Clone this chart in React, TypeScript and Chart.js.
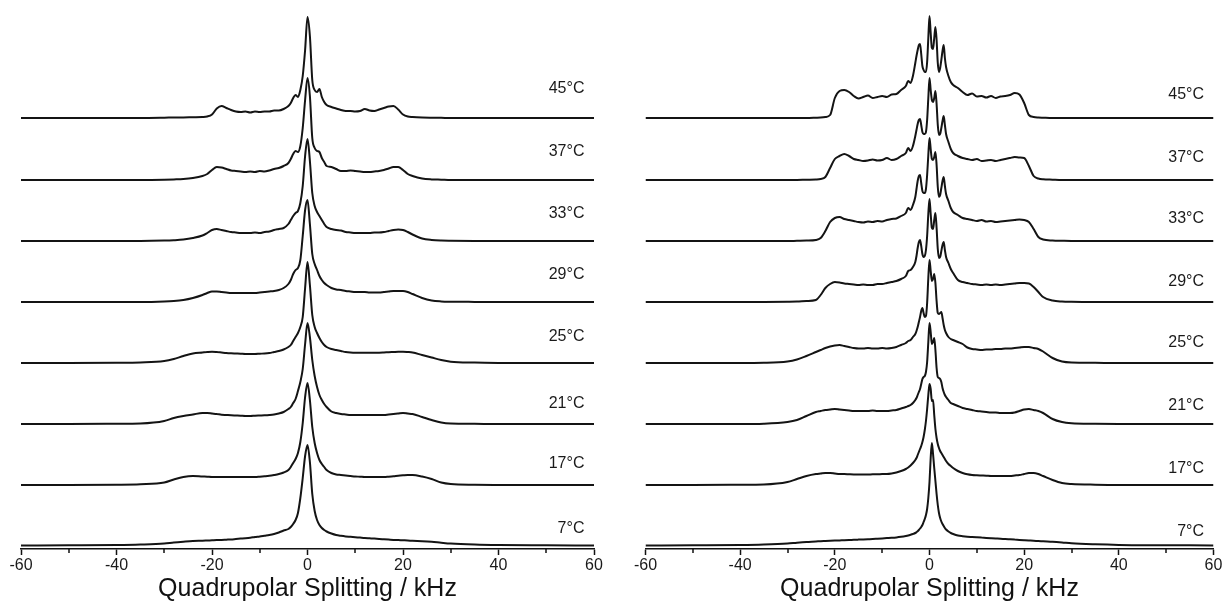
import React, { useEffect, useRef } from "react";
import { Chart, registerables } from "chart.js";

Chart.register(...registerables);

const FONT = "'Liberation Sans', Arial, sans-serif";

// Temperatures, bottom to top
const TEMPS = ["7°C", "17°C", "21°C", "25°C", "29°C", "33°C", "37°C", "45°C"];
// vertical stacking offset of each spectrum (intensity units)
const STACK_OFFSETS = [0, 61, 122, 183, 244, 305, 366, 428];
const X_MINOR = [-50, -30, -10, 10, 30, 50];
const AXIS_TITLE = "Quadrupolar Splitting / kHz";

// ---------- LEFT PANEL (kHz grid) ----------
const LEFT_X = [
  -60, -50, -40, -35, -30, -28, -26, -24, -22,
  -21, -20, -19, -18, -17, -16, -15, -14, -13, -12, -11, -10, -9, -8, -7, -6, -5,
  -4, -3.5, -3, -2.5, -2, -1.5, -1, -0.5, 0, 0.5, 1, 1.5, 2, 2.5, 3, 3.5, 4,
  5, 6, 7, 8, 9, 10, 11, 12, 13, 14, 15, 16, 17, 18, 19, 20, 21,
  22, 24, 26, 28, 30, 35, 40, 50, 60,
];
const LEFT_7 = [
  0.5, 0.7, 1, 1.5, 2.5, 3.5, 4.3, 5, 5.3,
  5.5, 5.7, 5.9, 6, 6.3, 6.6, 7, 7.4, 7.8, 8.3, 9, 9.6, 10.3, 11, 12, 13.5, 15.5,
  17, 19, 22, 26, 33, 48, 68, 90, 101, 84, 52, 35, 26, 21, 18, 16, 14.5,
  12.5, 11, 10.2, 9.6, 9.2, 8.8, 8.4, 8, 7.7, 7.4, 7, 6.7, 6.4, 6.1, 5.9, 5.7, 5.5,
  5.2, 4.8, 4.2, 3.3, 2.5, 1.5, 1, 0.7, 0.5,
];
const LEFT_17 = [
  0, 0, 0.3, 0.8, 2.5, 5.5, 8, 9, 8.5,
  8.3, 8, 8, 8, 8, 8, 8, 8, 8, 8, 8, 8.3, 8.7, 9.2, 10, 11, 12.5,
  15, 18, 22, 26, 32, 43, 62, 88, 102, 85, 58, 42, 32, 25, 21, 18, 15,
  12, 10.5, 10, 9.5, 9, 8.5, 8.3, 8, 8, 8, 8, 8, 8.3, 8.7, 9.3, 9.7, 10,
  10, 8.5, 6, 2.5, 1, 0.3, 0.1, 0, 0,
];
const LEFT_21 = [
  0, 0, 0.2, 0.5, 3, 6, 8, 9.5, 11,
  11, 10.5, 10, 9.3, 9, 8.7, 8.5, 8.3, 8, 8, 8.3, 8.5, 8.7, 9, 9.5, 10.5, 12,
  15, 17, 21, 25, 33, 42, 55, 80, 101, 87, 64, 48, 37, 29, 24, 20, 17,
  12.5, 11, 10, 9.5, 9, 9, 9, 9, 9, 9, 9, 9, 9.5, 10, 10.5, 11, 10.5,
  10, 7, 4, 1.5, 0.5, 0.2, 0, 0, 0,
];
const LEFT_25 = [
  0, 0, 0.2, 0.6, 2, 4, 7, 9.5, 10.5,
  11, 11.3, 11, 10.5, 10, 9.7, 9.5, 9.3, 9, 9, 9, 9.3, 9.5, 10, 11, 12, 13.5,
  16, 18, 22, 26, 30, 36, 46, 75, 101, 78, 48, 36, 30, 25, 21, 18, 16,
  14, 13, 12, 11, 10.5, 10.3, 10.3, 10.3, 10.3, 10.3, 10.3, 10.5, 10.8, 11, 11.2, 11.3, 11,
  10.5, 8, 5.5, 3, 1.3, 0.4, 0.1, 0, 0,
];
const LEFT_29 = [
  0, 0, 0, 0, 0.5, 1, 2, 4, 7,
  9, 10.5, 10.5, 10, 9.5, 9, 9, 9, 9, 9, 9, 9.5, 10, 10.5, 11, 12, 14,
  18, 22, 28, 32, 34, 42, 66, 92, 102, 78, 48, 38, 32, 26, 22, 19, 17,
  14, 12.5, 12, 11, 10.5, 10, 10, 10, 9.5, 9.5, 9.5, 10, 10.5, 11, 11, 11, 10,
  8, 4, 1.5, 0.6, 0.3, 0.1, 0, 0, 0,
];
const LEFT_33 = [
  0, 0, 0, 0, 0.4, 0.8, 1.5, 3, 5.5,
  8, 11, 12, 11, 10, 9, 8.5, 8, 8, 8, 8.5, 8, 9, 9.5, 11, 12, 13,
  17, 21, 25, 28, 30, 38, 55, 85, 102, 80, 48, 35, 29, 25, 21, 17, 14,
  12, 11, 10.5, 9, 8.5, 8, 8, 8, 8, 8.5, 8.5, 9, 10, 11, 11.5, 11, 9,
  6.5, 2.5, 1, 0.4, 0.2, 0, 0, 0, 0,
];
const LEFT_37 = [
  0, 0, 0, 0, 0.3, 0.6, 1, 2, 4,
  6, 10, 13, 12.5, 11, 9.5, 9, 8.5, 8, 8.5, 8, 9, 8.5, 9.5, 11, 12, 14,
  17, 21, 26, 29, 28, 34, 52, 80, 102, 84, 42, 32, 29, 28, 22, 18, 14,
  13, 11, 9, 9, 9.5, 9, 8.5, 8, 8, 8.5, 9, 10, 11.5, 13, 13, 10, 6,
  4, 1.5, 0.6, 0.3, 0, 0, 0, 0, 0,
];
const LEFT_45 = [
  0, 0, 0, 0, 0.3, 0.5, 0.6, 0.8, 1,
  1.5, 3.5, 9.5, 12, 10, 8, 6.5, 6, 6.5, 5.5, 6.5, 6, 6.5, 6.5, 7.5, 7.5, 9,
  12, 15, 20, 23, 21, 28, 42, 68, 101, 82, 38, 28, 26, 29, 21, 16, 13,
  11, 9.5, 8, 7, 7, 6.5, 7, 9, 7.5, 7, 8.5, 10, 11.5, 12, 8.5, 3.5, 1.5,
  1, 0.5, 0.3, 0.2, 0, 0, 0, 0, 0,
];

// ---------- RIGHT PANEL (kHz grid) ----------
const RIGHT_X = [
  -60, -50, -40, -35, -30, -28, -26, -24,
  -23, -22, -21, -20, -19, -18, -17, -16, -15, -14, -13, -12, -11, -10, -9, -8, -7, -6,
  -5, -4.5, -4, -3.5,
  -3, -2.75, -2.5, -2.25, -2, -1.75, -1.5, -1.25, -1, -0.75, -0.5, -0.25, 0,
  0.25, 0.5, 0.75, 1, 1.25, 1.5, 1.75, 2, 2.25, 2.5, 2.75, 3, 3.25, 3.5,
  4, 4.5, 5,
  6, 7, 8, 9, 10, 11, 12, 13, 14, 15, 16, 17, 18, 19, 20, 21, 22, 23,
  24, 26, 28, 30, 35, 40, 50, 60,
];
const RIGHT_7 = [
  0.5, 0.7, 1, 1.5, 2.5, 3.3, 4, 4.5,
  4.8, 5, 5.2, 5.4, 5.6, 5.8, 6, 6.2, 6.4, 6.6, 6.8, 7, 7.3, 7.6, 7.9, 8.2, 8.6, 9.2,
  10, 10.5, 11.2, 12,
  13, 13.8, 14.7, 16, 17.5, 19, 21, 24, 27, 31, 37, 48, 64,
  88, 103, 92, 78, 65, 52, 41, 33, 28, 24.5, 22, 20, 18, 16.5,
  14.5, 13, 12,
  10.5, 9.8, 9.3, 9, 8.7, 8.4, 8.1, 7.8, 7.5, 7.2, 7, 6.7, 6.4, 6.1, 5.8, 5.5, 5.2, 5,
  4.7, 4.2, 3.5, 2.7, 1.7, 1.1, 0.8, 0.5,
];
const RIGHT_17 = [
  0, 0, 0.2, 0.5, 3, 6, 9, 11,
  11.5, 12, 12, 11.5, 11, 11, 10.7, 10.5, 10.5, 10.5, 10.5, 10.7, 10.7, 11, 11, 11.5, 12.5, 14,
  16, 17.5, 19.5, 22,
  25, 27, 30, 33, 36, 39, 43, 48, 55, 64, 76, 90, 101,
  96, 84, 85, 70, 56, 47, 41, 37, 34, 32, 30, 28, 26, 24,
  21, 19, 17,
  14, 12, 10.7, 10, 9.7, 9.5, 9.3, 9, 9, 9, 9, 9, 9.5, 10, 11, 12, 12, 11,
  9, 5, 2, 1, 0.3, 0.1, 0, 0,
];
const RIGHT_21 = [
  0, 0, 0, 0.3, 2, 4, 8, 12,
  13, 14, 14.5, 15, 14.5, 14, 13.5, 13, 13, 13, 13, 13.5, 13, 13, 13, 13.5, 14, 15.5,
  17, 18, 19, 21,
  24, 26, 29, 32, 35, 40, 45, 47, 48, 52, 62, 82, 101,
  92, 80, 82, 86, 74, 56, 47, 46, 45, 42, 36, 32, 29, 27,
  24, 21, 20,
  18, 16, 15, 14, 13, 12.5, 12, 11.5, 11.5, 11, 11, 11, 11.5, 13, 14.5, 15, 14, 13,
  11, 5, 2, 0.8, 0.2, 0, 0, 0,
];
const RIGHT_25 = [
  0, 0, 0, 0.2, 1.5, 3.5, 7, 11,
  13, 15, 16.5, 17.5, 18, 17, 16, 15, 14.5, 14.5, 15, 14.5, 14.5, 15, 14.5, 15, 16, 18,
  20, 22, 23, 26,
  29, 32, 36, 41, 46, 52, 55, 50, 46, 47, 60, 85, 103,
  92, 82, 84, 89, 80, 62, 50, 49, 50, 51, 45, 38, 33, 30,
  26, 24, 23,
  21, 19, 15.5, 14, 13.5, 13, 13.5, 13.5, 14, 14, 14.5, 14.5, 15, 15.5, 16, 16, 15, 14,
  11.5, 5, 1.5, 0.5, 0.2, 0, 0, 0,
];
const RIGHT_29 = [
  0, 0, 0, 0, 0.2, 0.4, 1, 2,
  7, 14, 18, 20, 19.5, 18.5, 18, 17.5, 17, 17.5, 17, 17, 18, 18, 19, 20, 21, 23,
  26, 31, 32, 35,
  40, 46, 54, 60, 62, 56, 48, 45, 46, 52, 66, 88, 103,
  88, 74, 73, 82, 89, 74, 53, 44, 45, 51, 57, 60, 52, 45,
  39, 33, 29,
  22, 20, 19, 18, 17.5, 17, 17.5, 17, 17.5, 17, 17.5, 18, 18.5, 19, 19, 18.5, 15, 10,
  5, 1.5, 0.5, 0.2, 0, 0, 0, 0,
];
const RIGHT_33 = [
  0, 0, 0, 0, 0, 0.2, 0.4, 1,
  3, 10, 19, 23, 24, 22, 21, 20, 19, 18.5, 19.5, 19, 20, 19.5, 21, 22, 22.5, 25,
  28, 33, 31, 36,
  44, 52, 60, 65, 66, 58, 50, 48, 48, 52, 66, 86, 103,
  92, 82, 81, 84, 89, 76, 54, 44, 46, 53, 60, 64, 55, 47,
  40, 33, 29,
  26, 23, 22, 21, 20, 21, 19.5, 20, 19, 19.5, 20, 20.5, 21, 21.5, 21, 19, 12, 4,
  1.5, 0.5, 0.2, 0, 0, 0, 0, 0,
];
const RIGHT_37 = [
  0, 0, 0, 0, 0, 0, 0.3, 0.5,
  1, 3, 12, 21, 24, 26, 24, 21, 20, 19, 19.5, 20.5, 19.5, 20, 22, 20, 21, 24,
  27, 32, 29, 34,
  44, 50, 56, 60, 61, 55, 48, 46, 46, 48, 60, 82, 102,
  90, 80, 78, 82, 89, 76, 55, 45, 46, 52, 59, 64, 55, 46,
  38, 31, 27,
  24, 22, 21, 20, 21, 19, 19.5, 20, 19, 20, 21, 22, 23, 22.5, 22, 14, 4, 1.5,
  0.7, 0.3, 0, 0, 0, 0, 0, 0,
];
const RIGHT_45 = [
  0, 0, 0, 0, 0, 0, 0, 0.3,
  0.5, 1, 3, 20, 27, 28, 26, 22, 19.5, 21, 22.5, 20, 21, 22, 21, 23.5, 24, 28,
  32, 37, 35, 42,
  55, 62, 68, 73, 74, 64, 52, 48, 46, 46, 56, 80, 102,
  85, 70, 69, 80, 91, 78, 55, 46, 50, 58, 67, 73, 60, 51,
  42, 36, 33,
  30, 26, 23, 24.5, 21.5, 22, 20.5, 22, 20, 21.5, 22, 23, 25, 23.5, 15, 3, 1, 0.5,
  0.3, 0, 0, 0, 0, 0, 0, 0,
];

// label lift above each baseline (intensity units)
const LEFT_LABEL_LIFT = [17, 21, 20, 26, 27, 27, 28, 29];
const RIGHT_LABEL_LIFT = [14, 16, 18, 20, 20, 22, 22, 23];
const LABEL_X = 58;

const LEFT_SERIES = [LEFT_7, LEFT_17, LEFT_21, LEFT_25, LEFT_29, LEFT_33, LEFT_37, LEFT_45];
const RIGHT_SERIES = [RIGHT_7, RIGHT_17, RIGHT_21, RIGHT_25, RIGHT_29, RIGHT_33, RIGHT_37, RIGHT_45];

function makePlugin(lifts: number[]) {
  return {
    id: "tempLabels",
    afterDraw(chart: any) {
      const { ctx } = chart;
      const xs = chart.scales.x;
      const ys = chart.scales.y;
      ctx.save();
      ctx.font = `16px ${FONT}`;
      ctx.fillStyle = "#1a1a1a";
      ctx.textAlign = "right";
      ctx.textBaseline = "middle";
      TEMPS.forEach((t, i) => {
        ctx.fillText(t, xs.getPixelForValue(LABEL_X), ys.getPixelForValue(STACK_OFFSETS[i] + lifts[i]));
      });
      ctx.strokeStyle = "#111";
      ctx.lineWidth = 1.5;
      X_MINOR.forEach((v) => {
        const px = Math.round(xs.getPixelForValue(v));
        ctx.beginPath();
        ctx.moveTo(px, xs.top);
        ctx.lineTo(px, xs.top + 4);
        ctx.stroke();
      });
      ctx.restore();
    },
  };
}

function buildConfig(xsArr: number[], series: number[][], lifts: number[], padLeft: number, padRight: number): any {
  return {
    type: "line",
    data: {
      datasets: series.map((ys, i) => ({
        label: TEMPS[i],
        data: xsArr.map((x, j) => ({ x, y: ys[j] + STACK_OFFSETS[i] })),
        borderColor: "#141414",
        borderWidth: 2,
        pointRadius: 0,
        fill: false,
        cubicInterpolationMode: "monotone",
      })),
    },
    options: {
      animation: false,
      responsive: false,
      events: [],
      layout: { padding: { left: padLeft, right: padRight, top: 0, bottom: 0 } },
      plugins: { legend: { display: false }, tooltip: { enabled: false }, title: { display: false } },
      scales: {
        x: {
          type: "linear",
          position: "bottom",
          min: -60,
          max: 60,
          ticks: {
            stepSize: 20,
            autoSkip: false,
            maxRotation: 0,
            padding: 1,
            color: "#1a1a1a",
            font: { family: FONT, size: 16 },
          },
          grid: { drawOnChartArea: false, drawTicks: true, tickLength: 6, tickWidth: 1.5, tickColor: "#111" },
          border: { display: true, color: "#111", width: 1.6 },
          title: {
            display: true,
            text: AXIS_TITLE,
            color: "#111",
            font: { family: FONT, size: 25 },
            padding: { top: 0, bottom: 3 },
          },
          afterFit: (s: any) => {
            s.height = 58;
          },
        },
        y: { type: "linear", display: false, min: -3, max: 546 },
      },
    },
    plugins: [makePlugin(lifts)],
  };
}

function Panel(props: { left: number; xs: number[]; series: number[][]; lifts: number[]; padL: number; padR: number }) {
  const ref = useRef<HTMLCanvasElement>(null);
  useEffect(() => {
    const chart = new Chart(ref.current as HTMLCanvasElement, buildConfig(props.xs, props.series, props.lifts, props.padL, props.padR));
    return () => chart.destroy();
  }, []);
  return (
    <div style={{ position: "absolute", left: props.left, top: 0, width: 613, height: 607 }}>
      <canvas ref={ref} width={613} height={607} style={{ display: "block", width: 613, height: 607 }} />
    </div>
  );
}

export default function App() {
  return (
    <div style={{ position: "absolute", left: 0, top: 0, width: 1226, height: 607, background: "#fff", overflow: "hidden" }}>
      <Panel left={0} xs={LEFT_X} series={LEFT_SERIES} lifts={LEFT_LABEL_LIFT} padL={21} padR={19} />
      <Panel left={613} xs={RIGHT_X} series={RIGHT_SERIES} lifts={RIGHT_LABEL_LIFT} padL={32.5} padR={12.5} />
    </div>
  );
}
